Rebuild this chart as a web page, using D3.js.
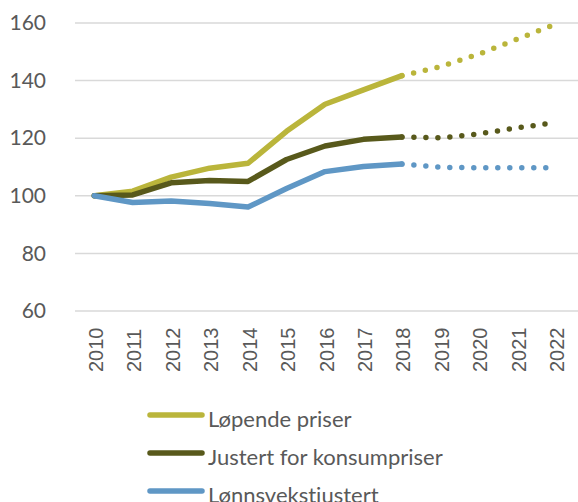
<!DOCTYPE html>
<html>
<head>
<meta charset="utf-8">
<script src="https://cdn.jsdelivr.net/npm/d3@7"></script>
<style>
  body { margin: 0; background: #fff; }
  .axis text { fill: #595959; }
</style>
</head>
<body>
<div id="graph"></div>
<script>
const years = ["2010","2011","2012","2013","2014","2015","2016","2017","2018","2019","2020","2021","2022"];
const lopende = [100, 101.6, 106.5, 109.6, 111.3, 122.4, 131.8, 136.8, 141.7, 144.8, 149.2, 154.4, 159.6];
const justert = [100, 100.3, 104.5, 105.3, 105.0, 112.6, 117.3, 119.6, 120.4, 120.1, 121.5, 123.6, 125.4];
const lonn = [100, 97.7, 98.2, 97.3, 96.1, 102.5, 108.4, 110.2, 111.0, 109.9, 109.7, 109.7, 109.7];
const yTicks = [60, 80, 100, 120, 140, 160];
const seriesNames = ["Løpende priser", "Justert for konsumpriser", "Lønnsvekstjustert"];
const seriesColors = ["#bab53b", "#58591b", "#5f97c5"];
const lastActual = 8; // 2018 - rest is projection

const width = 578, height = 502;

const svg = d3.select("#graph").append("svg")
  .attr("width", width)
  .attr("height", height);

const xScale = d3.scalePoint()
  .domain(years)
  .range([75, 575])
  .padding(0.5);

const yScale = d3.scaleLinear()
  .domain([60, 160])
  .range([311, 23]);

// gridlines
svg.append("g")
  .selectAll("line")
  .data(yTicks)
  .enter().append("line")
  .attr("x1", 75)
  .attr("x2", 578)
  .attr("y1", d => yScale(d))
  .attr("y2", d => yScale(d))
  .attr("stroke", "#d9d9d9")
  .attr("stroke-width", 1.5);

// y axis labels
const yAxis = d3.axisLeft(yScale).tickValues(yTicks).tickSize(0).tickPadding(0);
svg.append("g")
  .attr("class", "axis")
  .attr("transform", "translate(46,0)")
  .call(yAxis)
  .call(g => g.select(".domain").remove())
  .selectAll("text")
  .style("font-family", "Lato")
  .style("font-size", "21px");

// x axis labels, rotated (tick groups are already translated to x)
const xAxis = d3.axisBottom(xScale).tickSize(0).tickPadding(0);
svg.append("g")
  .attr("class", "axis")
  .call(xAxis)
  .call(g => g.select(".domain").remove())
  .selectAll("text")
  .attr("transform", "translate(1,372) rotate(-90)")
  .attr("x", 0)
  .attr("y", 0)
  .attr("dy", "0.35em")
  .style("text-anchor", "start")
  .style("font-family", "Liberation Sans")
  .style("font-size", "20px");

const line = d3.line()
  .x(d => xScale(d.year))
  .y(d => yScale(d.value));

const allSeries = [lopende, justert, lonn];

allSeries.forEach((vals, i) => {
  const pts = years.map((y, j) => ({ year: y, value: vals[j] }));
  svg.append("path")
    .datum(pts.slice(lastActual))
    .attr("d", line)
    .attr("fill", "none")
    .attr("stroke", seriesColors[i])
    .attr("stroke-width", 5.5)
    .attr("stroke-linecap", "round")
    .attr("stroke-dasharray", "0 12");
  svg.append("path")
    .datum(pts.slice(0, lastActual + 1))
    .attr("d", line)
    .attr("fill", "none")
    .attr("stroke", seriesColors[i])
    .attr("stroke-width", 5.5)
    .attr("stroke-linejoin", "round")
    .attr("stroke-linecap", "round");
});

// legend
const legend = svg.append("g")
  .selectAll("g")
  .data(seriesNames)
  .enter().append("g")
  .attr("transform", (d, i) => "translate(0," + (415 + i * 38) + ")");

legend.append("line")
  .attr("x1", 150)
  .attr("x2", 202)
  .attr("stroke", (d, i) => seriesColors[i])
  .attr("stroke-width", 5.5)
  .attr("stroke-linecap", "round");

legend.append("text")
  .attr("x", 208)
  .attr("y", 12)
  .text(d => d)
  .style("fill", "#595959")
  .style("font-family", "Lato")
  .style("font-size", "22px");
</script>
</body>
</html>
